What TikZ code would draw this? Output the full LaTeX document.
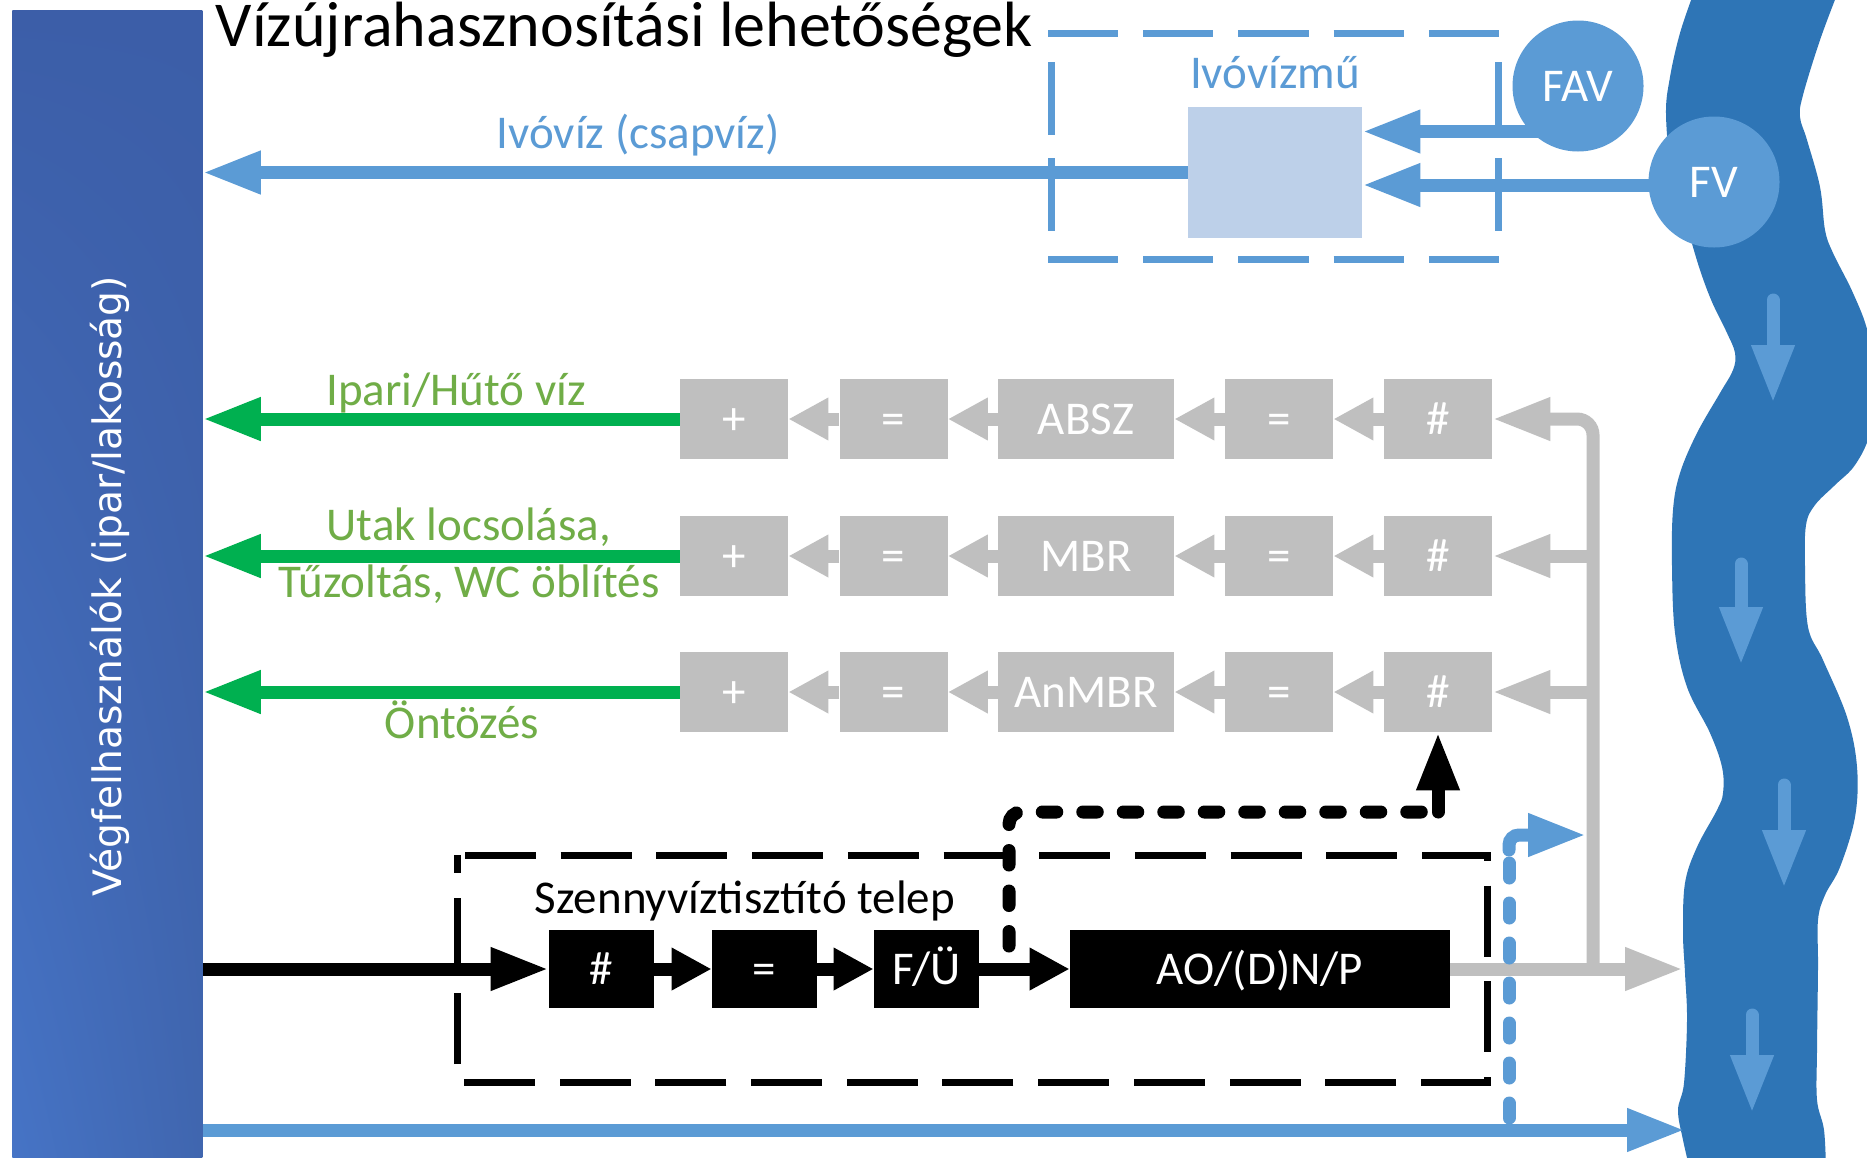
\documentclass[tikz,border=0pt]{standalone}
\usepackage{fontspec}
\setmainfont{Carlito}
\newfontfamily\vfont{DejaVu Sans}
\usetikzlibrary{arrows.meta,shadings}
\definecolor{lblue}{HTML}{5B9BD5}
\definecolor{riverc}{HTML}{2E75B6}
\definecolor{pale}{HTML}{BDD0E9}
\definecolor{grc}{HTML}{BFBFBF}
\definecolor{grn}{HTML}{00B050}
\definecolor{grtxt}{HTML}{70AD47}
\definecolor{barA}{HTML}{4674C6}
\definecolor{barB}{HTML}{3C5EA8}
\definecolor{barC}{HTML}{4066AF}
\tikzset{
  HeadL/.tip={Triangle[length=29pt,width=20pt]},
  HeadS/.tip={Triangle[length=20pt,width=20pt]},
  mid/.style={font=\fontsize{23.5}{28}\selectfont},
  gbox/.style={fill=grc, text=white, mid, inner sep=0pt, minimum height=40pt, minimum width=54pt, text height=15.1pt, text depth=0pt},
  gwide/.style={gbox, minimum width=88pt},
  kbox/.style={fill=black, text=white, mid, inner sep=0pt, minimum height=39pt, minimum width=52.5pt, text height=15.1pt, text depth=0pt},
  bline/.style={draw=lblue, line width=6.5pt},
  gline/.style={draw=grn, line width=6.5pt},
  grline/.style={draw=grc, line width=6.5pt},
  kline/.style={draw=black, line width=6.5pt},
  rarrow/.style={draw=lblue, line width=6.5pt, line cap=round, -{HeadL}},
  bdots/.style={draw=lblue, line width=6.5pt, line cap=round, dash pattern=on 7.5pt off 12.5pt},
  kdots/.style={draw=black, line width=6.5pt, line cap=round, dash pattern=on 7.25pt off 13pt, rounded corners=6pt},
  bframeh/.style={draw=lblue, line width=3.5pt, dash pattern=on 35.1pt off 12.5pt},
  bframev/.style={draw=lblue, line width=3.5pt, dash pattern=on 36.5pt off 11.5pt, dash phase=36.5pt},
  kframe/.style={draw=black, line width=3.5pt, dash pattern=on 35.5pt off 12.35pt, dash phase=43.85pt},
  glabel/.style={mid, text=grtxt, anchor=base, inner sep=0pt},
  blabel/.style={mid, text=lblue, anchor=base, inner sep=0pt},
}
\begin{document}
\begin{tikzpicture}[x=0.5pt,y=-0.5pt]
\clip (0,0) rectangle (1867,1157);
\fill[white] (0,0) rectangle (1867,1157);

% left bar
\node[inner sep=0pt, minimum width=95pt, minimum height=580pt, anchor=north west,
  upper left=barB, upper right=barB, lower left=barA, lower right=barC] (bar) at (12,10) {};
\node[rotate=90, text=white, font=\vfont\fontsize{19.6}{23}\selectfont, inner sep=0pt] (vtext) at (110,586) {Végfelhasználók (ipar/lakosság)};

% title
\node[font=\fontsize{32}{38}\selectfont, anchor=base, inner sep=0pt] (title) at (624.5,46) {Vízújrahasznosítási lehetőségek};

% river
\fill[riverc] plot[smooth, tension=0.6] coordinates {(1694,-8) (1680,33) (1670,77) (1666,115) (1672,175) (1688,230) (1700,270) (1712,302) (1727,333) (1735,353) (1733,370) (1720,393) (1697,433) (1680,473) (1673,510) (1672,567) (1675,633) (1687,687) (1710,733) (1722,767) (1723,793) (1717,810) (1697,847) (1685,883) (1683,933) (1685,973) (1687,1020) (1684,1083) (1678,1110) (1683,1140) (1690,1170)}
 -- plot[smooth, tension=0.6] coordinates {(1826,1170) (1824,1130) (1817,1100) (1817,1050) (1818,967) (1818,920) (1825,895) (1840,867) (1855,817) (1857,767) (1847,717) (1823,660) (1808,627) (1805,567) (1806,525) (1815,505) (1835,485) (1855,465) (1870,433) (1875,385) (1868,333) (1853,293) (1833,253) (1825,230) (1820,187) (1807,140) (1800,117) (1803,95) (1820,40) (1838,-8)} -- cycle;
\draw[rarrow] (1773,300) -- (1773,403);
\draw[rarrow] (1741,564) -- (1741,665);
\draw[rarrow] (1784,785) -- (1784,888);
\draw[rarrow] (1752,1015) -- (1752,1113);

% drinking water plant frame
\draw[bframeh] (1048,33) -- (1501,33);
\draw[bframeh] (1048,259) -- (1501,259);
\draw[bframev] (1051,39) -- (1051,253);
\draw[bframev] (1498,39) -- (1498,253);

\node[fill=pale, minimum width=87pt, minimum height=65.5pt, inner sep=0pt] (ivbox) at (1275,172.5) {};
\node[blabel] (lbiz) at (1275,88) {Ivóvízmű};
\node[blabel] (lbiv) at (638,148) {Ivóvíz (csapvíz)};

\coordinate (favout) at (1545,131.5);
\coordinate (fvout) at (1690,185);
\draw[bline, -{HeadL}] (favout) -- (ivbox.east |- favout);
\draw[bline, -{HeadL}] (fvout) -- (ivbox.east |- fvout);
\draw[bline, -{HeadL}] (ivbox.west) -- (bar.east |- ivbox.west);

\node[circle, fill=lblue, minimum size=65.5pt, inner sep=0pt, text=white, mid] (fav) at (1578,86) {FAV};
\node[circle, fill=lblue, minimum size=65.5pt, inner sep=0pt, text=white, mid] (fv) at (1714,182) {FV};

% reuse rows
\foreach \r/\y/\tech in {1/419/ABSZ, 2/556/MBR, 3/692/AnMBR}{
  \node[gbox] (p\r) at (734,\y) {+};
  \node[gbox] (a\r) at (893.5,\y) {=};
  \node[gwide] (m\r) at (1086,\y) {\tech};
  \node[gbox] (b\r) at (1279,\y) {=};
  \node[gbox] (h\r) at (1438,\y) {\#};
  \draw[grline, -{HeadS}] (a\r.west) -- (p\r.east);
  \draw[grline, -{HeadS}] (m\r.west) -- (a\r.east);
  \draw[grline, -{HeadS}] (b\r.west) -- (m\r.east);
  \draw[grline, -{HeadS}] (h\r.west) -- (b\r.east);
  \draw[gline, -{HeadL}] (p\r.west) -- (bar.east |- p\r.west);
}
\node[glabel] (lb1) at (456,405) {Ipari/Hűtő víz};
\node[glabel] (lb2a) at (469,540) {Utak locsolása,};
\node[glabel] (lb2b) at (469,597) {Tűzoltás, WC öblítés};
\node[glabel] (lb3) at (462,738) {Öntözés};

% wastewater treatment plant
\draw[kframe] (457,855) -- (1487,855) -- (1487,1082) -- (457,1082) -- cycle;
\node[mid, anchor=base, inner sep=0pt] (lbst) at (745,913) {Szennyvíztisztító telep};
\node[kbox] (kh) at (601.5,969) {\#};
\node[kbox] (ke) at (764.5,969) {=};
\node[kbox] (kf) at (926.5,969) {F/Ü};
\node[kbox, minimum width=190pt] (kao) at (1260,969) {AO/(D)N/P};

% gray network
\coordinate (gj) at (1593,969);
\coordinate (riv1) at (1683,969);
\draw[grline, -{HeadL}] (kao.east) -- (riv1);
\draw[grline, rounded corners=8pt, -{HeadL}] (gj) |- (h1.east);
\draw[grline, -{HeadL}] (gj |- h2.east) -- (h2.east);
\draw[grline, -{HeadL}] (gj |- h3.east) -- (h3.east);

% bottom blue line and bypass
\coordinate (riv2) at (1685,1130);
\draw[bline, -{HeadL}] (bar.east |- riv2) -- (riv2);
\coordinate (bd1) at (1509,1118);
\coordinate (bd2) at (1509,850);
\coordinate (bd3) at (1509,835);
\coordinate (bt) at (1586,835);
\draw[bdots] (bd1) -- (bd2);
\draw[bline, line cap=round, rounded corners=5pt, -{HeadL}] (bd2) -- (bd3) -- (bt);

% black flow
\draw[kline, -{HeadL}] (bar.east |- kh.west) -- (kh.west);
\draw[kline, -{HeadS}] (kh.east) -- (ke.west);
\draw[kline, -{HeadS}] (ke.east) -- (kf.west);
\draw[kline, -{HeadS}] (kf.east) -- (kao.west);
\coordinate (kd1) at (1009,946);
\coordinate (kd2) at (1009,812);
\draw[kdots] (kd1) -- (kd2) -- (h3.south |- kd2);
\draw[kline, line cap=round, -{HeadL}] (h3.south |- kd2) -- (h3.south);
\end{tikzpicture}
\end{document}
